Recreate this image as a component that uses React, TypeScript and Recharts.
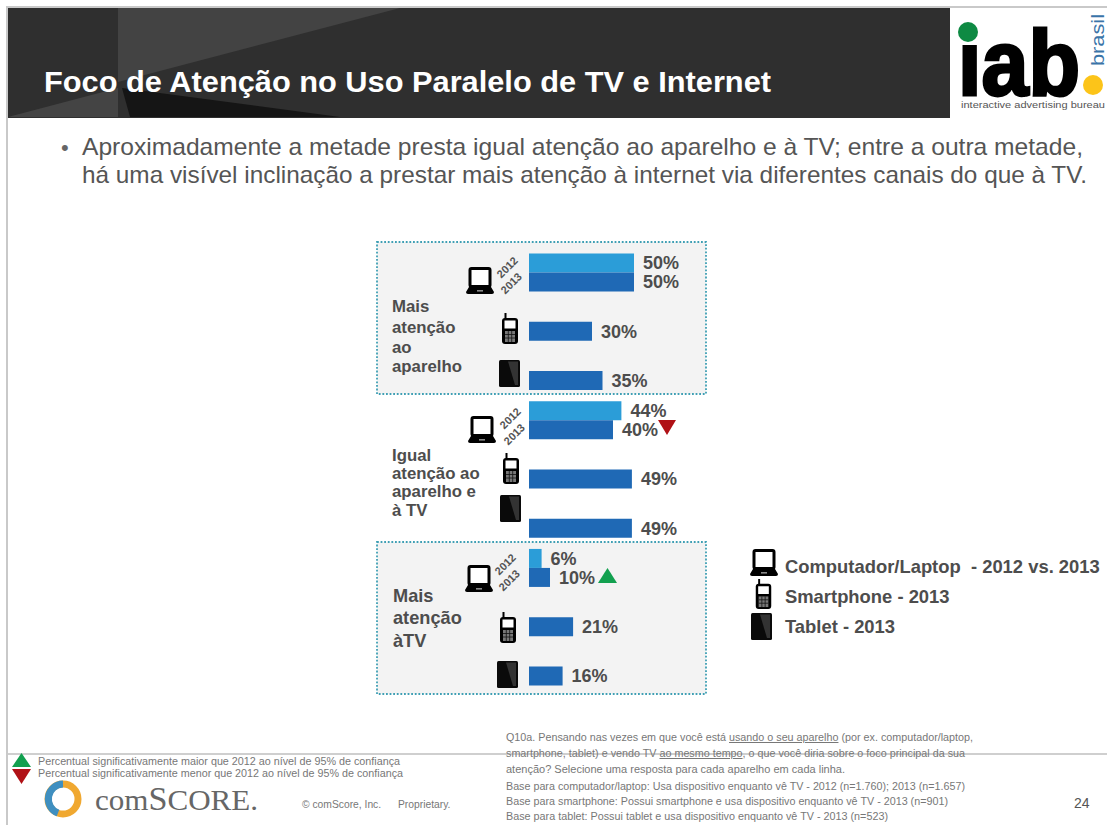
import React from "react";
import { BarChart, Bar, XAxis, YAxis, LabelList } from "recharts";

const rows = [
  "Mais atenção ao aparelho / Computador",
  "Mais atenção ao aparelho / Smartphone",
  "Mais atenção ao aparelho / Tablet",
  "Igual atenção / Computador",
  "Igual atenção / Smartphone",
  "Igual atenção / Tablet",
  "Mais atenção à TV / Computador",
  "Mais atenção à TV / Smartphone",
  "Mais atenção à TV / Tablet",
];
// only the computer rows were asked in both years
const values2012 = [50, null, null, 44, null, null, 6, null, null];
const values2013 = [50, 30, 35, 40, 49, 49, 10, 21, 16];

const chartData = rows.map((row, i) => ({
  row,
  y2012: values2012[i],
  y2013: values2013[i],
}));

const titleText = "Foco de Atenção no Uso Paralelo de TV e Internet";
const bulletLines = [
  "Aproximadamente a metade presta igual atenção ao aparelho e à TV; entre a outra metade,",
  "há uma visível inclinação a prestar mais atenção à internet via diferentes canais do que à TV.",
];
const legendLabels = ["Computador/Laptop  - 2012 vs. 2013", "Smartphone - 2013", "Tablet - 2013"];
const significanceNotes = [
  "Percentual significativamente maior que 2012 ao nível de 95% de confiança",
  "Percentual significativamente menor que 2012 ao nível de 95% de confiança",
];

const SANS = "'Liberation Sans', Arial, sans-serif";
const GREY_TEXT = "#4d4d4d";
const NOTE_TEXT = "#777";

function Laptop({ x, y, w = 28, h = 27 }: { x: number; y: number; w?: number; h?: number }) {
  return (
    <svg x={x} y={y} width={w} height={h} viewBox="0 0 28 27">
      <rect x="4" y="1.5" width="20" height="18" rx="1.5" fill="#fff" stroke="#000" strokeWidth="3" />
      <path d="M3 20 H25 L28 25 Q28 27 26 27 H2 Q0 27 0 25 Z" fill="#000" />
      <rect x="11" y="23" width="6" height="1.6" fill="#888" />
    </svg>
  );
}

function Phone({ x, y, w = 16, h = 31 }: { x: number; y: number; w?: number; h?: number }) {
  return (
    <svg x={x} y={y} width={w} height={h} viewBox="0 0 16 31">
      <rect x="2.5" y="0" width="2" height="6" fill="#000" />
      <rect x="0" y="5" width="16" height="26" rx="3" fill="#000" />
      <rect x="2.5" y="7.5" width="11" height="8" fill="#fff" />
      <rect x="3" y="18" width="10" height="11" fill="#777" />
      <path d="M3 21.5H13M3 25H13M6.3 18V29M9.7 18V29" stroke="#111" strokeWidth="0.8" />
    </svg>
  );
}

function Tablet({ x, y, w = 21, h = 27 }: { x: number; y: number; w?: number; h?: number }) {
  return (
    <svg x={x} y={y} width={w} height={h} viewBox="0 0 21 27">
      <rect x="0" y="0" width="21" height="27" rx="1.5" fill="#0a0a0a" />
      <path d="M9 1.5 L19 1.5 L19 25 L16 25 Z" fill="#333" />
    </svg>
  );
}

function YearTags({ x, y }: { x: number; y: number }) {
  const style = { fontFamily: SANS, fontSize: 11, fontWeight: 700, fill: "#555" };
  return (
    <g>
      <text transform={`translate(${x} ${y}) rotate(-45)`} textAnchor="middle" {...style}>2012</text>
      <text transform={`translate(${x + 4} ${y + 16}) rotate(-45)`} textAnchor="middle" {...style}>2013</text>
    </g>
  );
}

function Lines({ x, lines, size }: { x: number; lines: [string, number][]; size: number }) {
  return (
    <g fontFamily={SANS} fontSize={size} fontWeight={700} fill={GREY_TEXT}>
      {lines.map(([t, y]) => (
        <text key={t} x={x} y={y}>{t}</text>
      ))}
    </g>
  );
}

function Panel({ y, height }: { y: number; height: number }) {
  return (
    <rect x={377} y={y} width={329} height={height} fill="#f3f3f3" stroke="#3f9fb4"
      strokeWidth={1.8} strokeDasharray="1.8 1.8" />
  );
}

function Slide() {
  return (
    <svg width={1107} height={825} style={{ position: "absolute", left: 0, top: 0 }}>
      <rect width={1107} height={825} fill="#fff" />
      <rect x={6} y={7} width={2} height={818} fill="#c9c9c9" />
      <rect x={6} y={6} width={1101} height={2} fill="#c9c9c9" />

      {/* header band */}
      <rect x={8} y={8} width={942} height={110} fill="#2f2f2f" />
      <path d="M118 8 H400 L118 82 Z" fill="#434343" />
      <path d="M8 117 L118 88 V117 Z" fill="#444" />
      <path d="M122 88 L340 117 H130 Z" fill="#151515" />
      <text x={44} y={92} fontFamily={SANS} fontSize={29.5} fontWeight={700} fill="#fff"
        textLength={727} lengthAdjust="spacingAndGlyphs">{titleText}</text>

      {/* iab mark */}
      <rect x={950} y={8} width={157} height={110} fill="#fff" />
      <text x={958} y={95} fontFamily={SANS} fontSize={92} fontWeight={700} fill="#000" stroke="#000"
        strokeWidth={3} textLength={122} lengthAdjust="spacingAndGlyphs">iab</text>
      <rect x={955} y={14} width={24} height={31} fill="#fff" />
      <circle cx={968} cy={32} r={10} fill="#0e8a43" />
      <circle cx={1093} cy={85} r={10} fill="#fcc419" />
      <text transform="translate(1104 66) rotate(-90)" fontFamily={SANS} fontSize={19} fill="#3a74a8"
        textLength={52} lengthAdjust="spacingAndGlyphs">brasil</text>
      <text x={961} y={108} fontFamily={SANS} fontSize={9.5} fill="#555"
        textLength={144} lengthAdjust="spacingAndGlyphs">interactive advertising bureau</text>

      {/* bullet */}
      <text x={61} y={155} fontFamily={SANS} fontSize={22} fill="#666">•</text>
      {bulletLines.map((line, i) => (
        <text key={line} x={82} y={155 + i * 28} fontFamily={SANS} fontSize={24} fill="#555"
          textLength={i === 0 ? 1001 : 1005} lengthAdjust="spacingAndGlyphs">{line}</text>
      ))}

      <Panel y={242} height={152} />
      <Panel y={542} height={152} />

      <Lines x={392} size={16.8} lines={[["Mais", 312], ["atenção", 333], ["ao", 353], ["aparelho", 372]]} />
      <Lines x={392} size={16.8} lines={[["Igual", 461], ["atenção ao", 479], ["aparelho e", 497], ["à TV", 516]]} />
      <Lines x={393} size={18.2} lines={[["Mais", 602], ["atenção", 624], ["àTV", 647]]} />

      <Laptop x={466} y={267} />
      <Phone x={502} y={313} />
      <Tablet x={499} y={360} />
      <YearTags x={510} y={270} />
      <Laptop x={468} y={416} />
      <Phone x={503} y={453} />
      <Tablet x={500} y={495} />
      <YearTags x={513} y={421} />
      <Laptop x={465} y={565} />
      <Phone x={500} y={612} />
      <Tablet x={497} y={661} />
      <YearTags x={508} y={567} />

      {/* device key */}
      <Laptop x={750} y={549} />
      <Phone x={755} y={579} w={17} h={30} />
      <Tablet x={751} y={613} />
      <g fontFamily={SANS} fontSize={18.4} fontWeight={700} fill={GREY_TEXT}>
        <text x={785} y={573} style={{ whiteSpace: "pre" }}>{legendLabels[0]}</text>
        <text x={785} y={603}>{legendLabels[1]}</text>
        <text x={785} y={633}>{legendLabels[2]}</text>
      </g>

      {/* footer */}
      <rect x={8} y={753} width={1099} height={2} fill="#cfcfcf" />
      <path d="M21.5 753 L31 767 H12 Z" fill="#12a04f" />
      <path d="M12 769 H31 L21.5 784 Z" fill="#b01116" />
      <g fontFamily={SANS} fontSize={10} fill={NOTE_TEXT}>
        <text x={38} y={765} textLength={362} lengthAdjust="spacingAndGlyphs">{significanceNotes[0]}</text>
        <text x={38} y={777} textLength={365} lengthAdjust="spacingAndGlyphs">{significanceNotes[1]}</text>
      </g>

      {/* comScore mark */}
      <circle cx={63} cy={799} r={15} fill="none" stroke="#f0a830" strokeWidth={7} />
      <path d="M63 784 A15 15 0 0 0 58 813" fill="none" stroke="#3f8fc0" strokeWidth={7} />
      <text x={95} y={810} fontFamily="'Liberation Serif', serif" fontSize={30} fill="#666"
        textLength={163} lengthAdjust="spacingAndGlyphs">
        com<tspan fontSize={33}>S</tspan>CORE.
      </text>
      <text x={302} y={808} fontFamily={SANS} fontSize={10.3} fill={NOTE_TEXT}>© comScore, Inc.</text>
      <text x={398} y={808} fontFamily={SANS} fontSize={10.3} fill={NOTE_TEXT}>Proprietary.</text>

      <g fontFamily={SANS} fontSize={10} fill={NOTE_TEXT}>
        <text x={506} y={741} textLength={467} lengthAdjust="spacingAndGlyphs">
          Q10a. Pensando nas vezes em que você está <tspan textDecoration="underline">usando o seu aparelho</tspan> (por ex. computador/laptop,
        </text>
        <text x={506} y={757} textLength={459} lengthAdjust="spacingAndGlyphs">
          smartphone, tablet) e vendo TV <tspan textDecoration="underline">ao mesmo tempo</tspan>, o que você diria sobre o foco principal da sua
        </text>
        <text x={506} y={773} textLength={339} lengthAdjust="spacingAndGlyphs">atenção? Selecione uma resposta para cada aparelho em cada linha.</text>
        <text x={506} y={790} textLength={459} lengthAdjust="spacingAndGlyphs">Base para computador/laptop: Usa dispositivo enquanto vê TV - 2012 (n=1.760); 2013 (n=1.657)</text>
        <text x={506} y={805} textLength={442} lengthAdjust="spacingAndGlyphs">Base para smartphone: Possui smartphone e usa dispositivo enquanto vê TV - 2013 (n=901)</text>
        <text x={506} y={820} textLength={382} lengthAdjust="spacingAndGlyphs">Base para tablet: Possui tablet e usa dispositivo enquanto vê TV - 2013 (n=523)</text>
      </g>
      <text x={1074} y={808} fontFamily={SANS} fontSize={14} fill="#555">24</text>
    </svg>
  );
}

const formatPercent = (v: unknown) => (v == null ? "" : `${v}%`);
const labelStyle = { fontFamily: SANS, fontSize: 18, fontWeight: 700, fill: GREY_TEXT };

export default function App() {
  return (
    <div style={{ position: "absolute", left: 0, top: 0, width: 1107, height: 825, overflow: "hidden" }}>
      <Slide />
      <div style={{ position: "absolute", left: 0, top: 0 }}>
        <BarChart
          width={1107}
          height={825}
          data={chartData}
          layout="vertical"
          barSize={19}
          barGap={0}
          margin={{ top: 247.6, bottom: 134.4, left: 529, right: 368 }}
        >
          <XAxis type="number" domain={[0, 100]} hide />
          <YAxis type="category" dataKey="row" width={0} tick={false} tickLine={false}
            axisLine={{ stroke: "#b5b5b5", strokeWidth: 1.5 }} />
          <Bar dataKey="y2012" fill="#2b9dd8" isAnimationActive={false}>
            <LabelList dataKey="y2012" position="right" offset={9} formatter={formatPercent} style={labelStyle} />
          </Bar>
          <Bar dataKey="y2013" fill="#1f69b5" isAnimationActive={false}>
            <LabelList dataKey="y2013" position="right" offset={9} formatter={formatPercent} style={labelStyle} />
          </Bar>
        </BarChart>
      </div>
      {/* significance markers beside the 2013 laptop labels */}
      <svg width={1107} height={825} style={{ position: "absolute", left: 0, top: 0, pointerEvents: "none" }}>
        <path d="M658 420 H676 L667 435 Z" fill="#b01116" />
        <path d="M607.5 568 L617 583 H598 Z" fill="#12a04f" />
      </svg>
    </div>
  );
}
